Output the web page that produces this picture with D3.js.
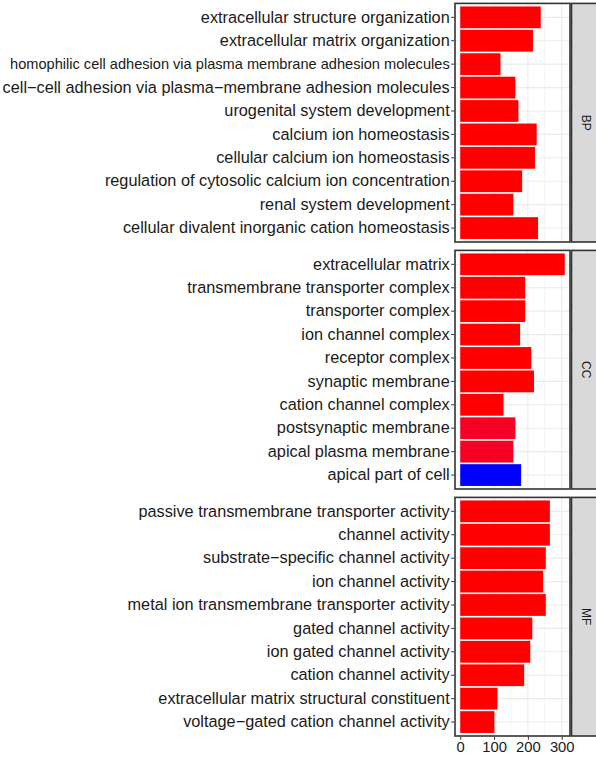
<!DOCTYPE html>
<html><head><meta charset="utf-8">
<script src="https://cdn.jsdelivr.net/npm/d3@7"></script>
<style>body{margin:0;background:#fff}svg{display:block}</style>
</head><body>
<script>
const facets = ["BP", "CC", "MF"];
const bpTerms = ["extracellular structure organization","extracellular matrix organization","homophilic cell adhesion via plasma membrane adhesion molecules","cell\u2212cell adhesion via plasma\u2212membrane adhesion molecules","urogenital system development","calcium ion homeostasis","cellular calcium ion homeostasis","regulation of cytosolic calcium ion concentration","renal system development","cellular divalent inorganic cation homeostasis"];
const bpCounts = [238, 215, 119, 163, 172, 226, 221, 183, 157, 230];
const bpPadj = [1e-9, 1e-9, 1e-9, 1e-9, 1e-9, 1e-9, 1e-9, 1e-9, 1e-9, 1e-9];
const ccTerms = ["extracellular matrix","transmembrane transporter complex","transporter complex","ion channel complex","receptor complex","synaptic membrane","cation channel complex","postsynaptic membrane","apical plasma membrane","apical part of cell"];
const ccCounts = [309, 192, 192, 177, 210, 218, 128, 163, 157, 180];
const ccPadj = [1e-9, 1e-9, 1e-9, 1e-9, 1e-9, 1e-9, 1e-9, 0.00040, 0.00040, 0.0050];
const mfTerms = ["passive transmembrane transporter activity","channel activity","substrate\u2212specific channel activity","ion channel activity","metal ion transmembrane transporter activity","gated channel activity","ion gated channel activity","cation channel activity","extracellular matrix structural constituent","voltage\u2212gated cation channel activity"];
const mfCounts = [265, 265, 253, 245, 253, 213, 207, 189, 110, 101];
const mfPadj = [1e-9, 1e-9, 1e-9, 1e-9, 1e-9, 1e-9, 1e-9, 1e-9, 1e-9, 1e-9];
const xTicks = [0, 100, 200, 300];
const xMinor = [50, 150, 250];

const W = 596, H = 757;
const svg = d3.select("body").append("svg").attr("width", W).attr("height", H);

const groups = [
  {name: facets[0], terms: bpTerms, counts: bpCounts, padj: bpPadj},
  {name: facets[1], terms: ccTerms, counts: ccCounts, padj: ccPadj},
  {name: facets[2], terms: mfTerms, counts: mfCounts, padj: mfPadj}
];

const allCounts = bpCounts.concat(ccCounts, mfCounts);
const allPadj = bpPadj.concat(ccPadj, mfPadj);
const maxC = d3.max(allCounts);
const panelL = 455, panelR = 570;
const x = d3.scaleLinear().domain([-0.05 * maxC, 1.05 * maxC]).range([panelL, panelR]);
const color = d3.scaleLinear().domain(d3.extent(allPadj)).range(["#FF0000", "#0000FF"]).interpolate(d3.interpolateLab);

const panelH = 238.6, gap = 8.4, top0 = 3.4;
const stripL = 571.5, stripW = 30;
const font = "'Liberation Sans', Arial, sans-serif";

groups.forEach((g, gi) => {
  const top = top0 + gi * (panelH + gap);
  const y = d3.scaleBand().domain(g.terms).range([top, top + panelH]).paddingInner(0.07).paddingOuter(0.13);
  const p = svg.append("g");
  p.append("rect").attr("x", panelL).attr("y", top).attr("width", panelR - panelL).attr("height", panelH).attr("fill", "#fff");
  p.selectAll(".vmin").data(xMinor).join("line")
    .attr("x1", d => x(d)).attr("x2", d => x(d)).attr("y1", top).attr("y2", top + panelH)
    .attr("stroke", "#EBEBEB").attr("stroke-width", 0.6);
  p.selectAll(".vmaj").data(xTicks).join("line")
    .attr("x1", d => x(d)).attr("x2", d => x(d)).attr("y1", top).attr("y2", top + panelH)
    .attr("stroke", "#EBEBEB").attr("stroke-width", 1.1);
  p.selectAll(".hmaj").data(g.terms).join("line")
    .attr("x1", panelL).attr("x2", panelR).attr("y1", d => y(d) + y.bandwidth() / 2).attr("y2", d => y(d) + y.bandwidth() / 2)
    .attr("stroke", "#EBEBEB").attr("stroke-width", 1.1);
  p.selectAll(".bar").data(g.terms).join("rect")
    .attr("x", x(0)).attr("y", d => y(d))
    .attr("width", (d, i) => x(g.counts[i]) - x(0)).attr("height", y.bandwidth())
    .attr("fill", (d, i) => color(g.padj[i]));
  p.append("rect").attr("x", panelL).attr("y", top).attr("width", panelR - panelL).attr("height", panelH)
    .attr("fill", "none").attr("stroke", "#333333").attr("stroke-width", 1.6);
  const ya = p.append("g").attr("transform", `translate(${panelL - 0.8},0)`)
    .call(d3.axisLeft(y).tickSize(3).tickPadding(1.5));
  ya.select(".domain").remove();
  ya.selectAll(".tick line").attr("stroke", "#333333").attr("stroke-width", 1);
  ya.selectAll(".tick text").attr("fill", "#1A1A1A").attr("font-family", font)
    .attr("font-size", d => d.length > 60 ? "14.6px" : "16.3px");
  p.append("rect").attr("x", stripL).attr("y", top).attr("width", stripW).attr("height", panelH)
    .attr("fill", "#D9D9D9").attr("stroke", "#333333").attr("stroke-width", 1.6);
  p.append("text").attr("transform", `translate(${stripL + 14.5},${top + panelH / 2}) rotate(90)`)
    .attr("text-anchor", "middle").attr("dy", "0.35em").attr("font-family", font).attr("font-size", "12px")
    .attr("fill", "#1A1A1A").text(g.name);
  if (gi === groups.length - 1) {
    const xa = svg.append("g").attr("transform", `translate(0,${top + panelH + 0.8})`)
      .call(d3.axisBottom(x).tickValues(xTicks).tickSize(3).tickPadding(2));
    xa.select(".domain").remove();
    xa.selectAll(".tick line").attr("stroke", "#333333");
    xa.selectAll(".tick text").attr("fill", "#1A1A1A").attr("font-family", font).attr("font-size", "14.8px");
  }
});
</script>
</body></html>
